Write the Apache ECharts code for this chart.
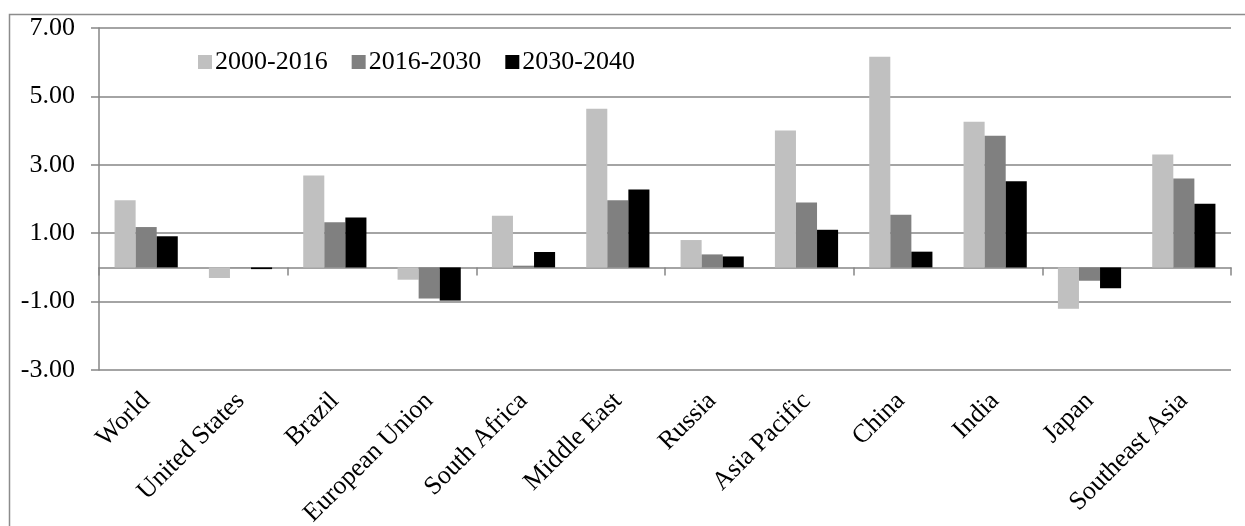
<!DOCTYPE html>
<html><head><meta charset="utf-8">
<script src="https://cdn.jsdelivr.net/npm/echarts@6/dist/echarts.min.js"></script>
<style>html,body{margin:0;padding:0;background:#fff}#c{width:1245px;height:526px}</style>
</head><body><div id="c"></div>
<script>
const categories = ["World","United States","Brazil","European Union","South Africa","Middle East","Russia","Asia Pacific","China","India","Japan","Southeast Asia"];
const seriesNames = ["2000-2016","2016-2030","2030-2040"];
const s2000_2016 = [1.96,-0.31,2.69,-0.36,1.51,4.64,0.80,4.00,6.16,4.26,-1.21,3.30];
const s2016_2030 = [1.18,-0.01,1.32,-0.91,0.05,1.96,0.38,1.90,1.54,3.85,-0.39,2.60];
const s2030_2040 = [0.91,-0.05,1.46,-0.97,0.45,2.28,0.32,1.10,0.46,2.52,-0.61,1.86];
const colors = ["#c0c0c0","#808080","#000000"];
const yMin = -3, yMax = 7, yInterval = 2;

const font = "'Liberation Serif', 'Times New Roman', serif";
const chart = echarts.init(document.getElementById('c'));
const data = [s2000_2016, s2016_2030, s2030_2040];
chart.setOption({
  animation: false,
  textStyle: {fontFamily: font},
  graphic: [{type:'rect', shape:{x:9.5,y:14.5,width:1240,height:520}, style:{fill:'none', stroke:'#8c8c8c', lineWidth:1.5}}],
  legend: {
    data: seriesNames, left: 193, top: 44, itemWidth: 14, itemHeight: 14, itemGap: 24,
    icon: 'rect', textStyle: {fontFamily: font, fontSize: 26, color: '#000', padding:[0,0,0,-2]}
  },
  grid: {left: 99, right: 14, top: 28, bottom: 156, outerBoundsMode: 'none', containLabel: false},
  xAxis: [
    {type:'category', data: categories, position:'bottom', axisLine:{show:false, onZero:false}, axisTick:{show:false},
     axisLabel:{rotate:45, interval:0, fontFamily: font, fontSize: 26, color:'#000', margin: 27}},
    {type:'category', data: categories, position:'bottom', axisLine:{onZero:true, lineStyle:{color:'#868686', width:1.5}},
     axisTick:{show:true, length:8, lineStyle:{color:'#868686', width:1.5}}, axisLabel:{show:false}}
  ],
  yAxis: {type:'value', min:yMin, max:yMax, interval:yInterval,
    axisLine:{show:true, lineStyle:{color:'#868686', width:1.5}},
    axisTick:{show:true, length:8, lineStyle:{color:'#868686', width:1.5}},
    splitLine:{lineStyle:{color:'#868686', width:1.5}},
    axisLabel:{formatter: v => v.toFixed(2), fontFamily: font, fontSize: 26, color:'#000', margin: 24}},
  series: seriesNames.map((n,i)=>({
    name:n, type:'bar', data:data[i], xAxisIndex:0, barGap:'0%', barCategoryGap:'33%',
    itemStyle:{color:colors[i]}
  }))
});
</script></body></html>
